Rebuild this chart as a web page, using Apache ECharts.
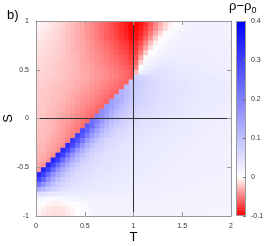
<!DOCTYPE html>
<html><head><meta charset="utf-8">
<script src="https://cdn.jsdelivr.net/npm/echarts@6/dist/echarts.min.js"></script>
<style>html,body{margin:0;padding:0;background:#fff}#c{width:273px;height:246px}</style>
</head><body><div id="c"></div>
<script>
// cell centres (T across, S down from the top row)
const tCenters = [0.025,0.075,0.125,0.175,0.225,0.275,0.325,0.375,0.425,0.475,0.525,0.575,0.625,0.675,0.725,0.775,0.825,0.875,0.925,0.975,1.025,1.075,1.125,1.175,1.225,1.275,1.325,1.375,1.425,1.475,1.525,1.575,1.625,1.675,1.725,1.775,1.825,1.875,1.925,1.975];
const sCenters = [0.975,0.925,0.875,0.825,0.775,0.725,0.675,0.625,0.575,0.525,0.475,0.425,0.375,0.325,0.275,0.225,0.175,0.125,0.075,0.025,-0.025,-0.075,-0.125,-0.175,-0.225,-0.275,-0.325,-0.375,-0.425,-0.475,-0.525,-0.575,-0.625,-0.675,-0.725,-0.775,-0.825,-0.875,-0.925,-0.975];
// rho - rho0, one row per S value (top row first)
const rhoDiff = [
[-0.004,-0.006,-0.008,-0.011,-0.014,-0.018,-0.022,-0.026,-0.031,-0.035,-0.041,-0.046,-0.051,-0.057,-0.063,-0.069,-0.076,-0.083,-0.089,-0.1,-0.098,-0.092,-0.08,-0.065,-0.048,-0.032,-0.018,-0.007,0,0.008,0.014,0.018,0.02,0.022,0.022,0.022,0.022,0.022,0.021,0.021],
[-0.005,-0.007,-0.009,-0.012,-0.015,-0.019,-0.022,-0.027,-0.031,-0.036,-0.041,-0.046,-0.051,-0.057,-0.063,-0.069,-0.075,-0.082,-0.089,-0.099,-0.097,-0.09,-0.077,-0.061,-0.045,-0.028,-0.015,-0.003,0.006,0.012,0.016,0.019,0.021,0.022,0.023,0.023,0.023,0.022,0.022,0.022],
[-0.007,-0.009,-0.011,-0.014,-0.017,-0.02,-0.024,-0.028,-0.032,-0.036,-0.041,-0.046,-0.051,-0.057,-0.063,-0.068,-0.074,-0.081,-0.087,-0.097,-0.094,-0.085,-0.07,-0.052,-0.034,-0.017,-0.003,0.006,0.012,0.017,0.02,0.022,0.023,0.024,0.024,0.024,0.023,0.023,0.023,0.022],
[-0.008,-0.01,-0.012,-0.014,-0.017,-0.021,-0.024,-0.028,-0.032,-0.036,-0.041,-0.046,-0.051,-0.056,-0.062,-0.067,-0.073,-0.079,-0.085,-0.095,-0.091,-0.08,-0.061,-0.041,-0.02,-0.004,0.006,0.013,0.018,0.021,0.023,0.024,0.024,0.025,0.025,0.024,0.024,0.024,0.023,0.023],
[-0.01,-0.012,-0.014,-0.016,-0.019,-0.021,-0.024,-0.028,-0.032,-0.035,-0.039,-0.044,-0.048,-0.053,-0.058,-0.063,-0.068,-0.074,-0.079,-0.088,-0.083,-0.07,-0.048,-0.027,-0.007,0.005,0.013,0.018,0.021,0.023,0.024,0.025,0.025,0.025,0.025,0.025,0.024,0.024,0.024,0.023],
[-0.011,-0.013,-0.014,-0.017,-0.018,-0.021,-0.024,-0.028,-0.032,-0.035,-0.039,-0.043,-0.047,-0.051,-0.056,-0.061,-0.065,-0.071,-0.076,-0.084,-0.079,-0.061,-0.036,-0.012,0.003,0.012,0.018,0.021,0.023,0.024,0.025,0.025,0.026,0.026,0.026,0.025,0.025,0.025,0.024,0.024],
[-0.012,-0.014,-0.015,-0.017,-0.019,-0.022,-0.025,-0.028,-0.03,-0.034,-0.038,-0.041,-0.046,-0.05,-0.054,-0.058,-0.063,-0.068,-0.073,-0.08,-0.073,-0.051,-0.02,0,0.01,0.017,0.021,0.024,0.025,0.026,0.026,0.026,0.026,0.026,0.026,0.026,0.025,0.025,0.025,0.024],
[-0.013,-0.014,-0.016,-0.018,-0.019,-0.022,-0.025,-0.027,-0.03,-0.034,-0.037,-0.041,-0.044,-0.048,-0.052,-0.056,-0.06,-0.064,-0.069,-0.076,-0.068,-0.034,-0.002,0.012,0.019,0.024,0.027,0.028,0.028,0.028,0.027,0.027,0.026,0.026,0.026,0.026,0.025,0.025,0.025,0.024],
[-0.014,-0.015,-0.017,-0.018,-0.02,-0.023,-0.025,-0.027,-0.03,-0.033,-0.036,-0.04,-0.043,-0.047,-0.05,-0.054,-0.057,-0.062,-0.066,-0.072,-0.06,-0.018,0.012,0.022,0.028,0.031,0.032,0.032,0.031,0.03,0.029,0.028,0.027,0.027,0.026,0.026,0.026,0.025,0.025,0.025],
[-0.015,-0.016,-0.018,-0.019,-0.021,-0.023,-0.025,-0.027,-0.029,-0.033,-0.035,-0.038,-0.041,-0.044,-0.048,-0.051,-0.054,-0.059,-0.062,-0.068,-0.05,0.005,0.02,0.03,0.035,0.037,0.037,0.036,0.035,0.033,0.032,0.031,0.03,0.029,0.028,0.027,0.027,0.026,0.026,0.025],
[-0.016,-0.017,-0.018,-0.019,-0.022,-0.023,-0.025,-0.027,-0.03,-0.032,-0.034,-0.038,-0.04,-0.043,-0.046,-0.05,-0.053,-0.056,-0.059,-0.065,-0.028,0.025,0.035,0.042,0.045,0.044,0.042,0.04,0.038,0.036,0.034,0.032,0.031,0.03,0.029,0.028,0.027,0.027,0.026,0.025],
[-0.017,-0.018,-0.019,-0.02,-0.022,-0.023,-0.025,-0.028,-0.029,-0.032,-0.034,-0.037,-0.04,-0.043,-0.045,-0.048,-0.051,-0.055,-0.059,-0.063,0.07,0.066,0.06,0.054,0.05,0.047,0.044,0.042,0.04,0.038,0.037,0.035,0.034,0.033,0.032,0.031,0.03,0.029,0.028,0.027],
[-0.018,-0.019,-0.02,-0.022,-0.023,-0.025,-0.027,-0.029,-0.032,-0.034,-0.036,-0.039,-0.042,-0.045,-0.048,-0.051,-0.054,-0.058,-0.061,0.09,0.084,0.075,0.067,0.06,0.055,0.052,0.048,0.046,0.044,0.041,0.04,0.038,0.036,0.035,0.034,0.032,0.031,0.03,0.029,0.028],
[-0.019,-0.02,-0.021,-0.023,-0.024,-0.027,-0.028,-0.03,-0.033,-0.036,-0.039,-0.041,-0.044,-0.047,-0.051,-0.054,-0.057,-0.061,0.105,0.096,0.085,0.075,0.067,0.06,0.056,0.052,0.049,0.046,0.044,0.042,0.04,0.038,0.037,0.035,0.034,0.032,0.031,0.03,0.029,0.028],
[-0.019,-0.021,-0.021,-0.023,-0.025,-0.027,-0.03,-0.032,-0.034,-0.037,-0.04,-0.043,-0.046,-0.05,-0.053,-0.057,-0.061,0.119,0.11,0.096,0.083,0.073,0.066,0.06,0.056,0.052,0.049,0.047,0.044,0.042,0.04,0.039,0.037,0.035,0.034,0.032,0.031,0.03,0.029,0.028],
[-0.02,-0.022,-0.022,-0.025,-0.026,-0.028,-0.031,-0.034,-0.037,-0.04,-0.043,-0.046,-0.049,-0.053,-0.057,-0.061,0.133,0.123,0.106,0.09,0.079,0.071,0.064,0.059,0.055,0.052,0.049,0.046,0.044,0.042,0.04,0.038,0.036,0.035,0.033,0.032,0.031,0.03,0.029,0.028],
[-0.02,-0.022,-0.023,-0.025,-0.027,-0.03,-0.032,-0.035,-0.038,-0.042,-0.045,-0.049,-0.052,-0.056,-0.061,0.148,0.135,0.116,0.098,0.086,0.076,0.068,0.063,0.058,0.054,0.052,0.048,0.046,0.044,0.042,0.039,0.038,0.036,0.034,0.033,0.031,0.03,0.029,0.028,0.027],
[-0.021,-0.022,-0.024,-0.026,-0.028,-0.031,-0.034,-0.037,-0.04,-0.044,-0.048,-0.051,-0.056,-0.06,0.162,0.148,0.125,0.104,0.089,0.078,0.07,0.063,0.059,0.055,0.052,0.048,0.046,0.044,0.042,0.039,0.038,0.036,0.034,0.033,0.031,0.03,0.029,0.028,0.027,0.027],
[-0.021,-0.022,-0.025,-0.027,-0.029,-0.032,-0.036,-0.039,-0.043,-0.047,-0.051,-0.055,-0.06,0.177,0.16,0.134,0.11,0.093,0.08,0.071,0.064,0.059,0.055,0.052,0.048,0.046,0.044,0.042,0.039,0.038,0.036,0.034,0.033,0.031,0.03,0.029,0.028,0.027,0.027,0.026],
[-0.022,-0.023,-0.026,-0.028,-0.031,-0.035,-0.037,-0.042,-0.046,-0.05,-0.054,-0.059,0.196,0.177,0.146,0.118,0.098,0.083,0.073,0.065,0.06,0.055,0.052,0.048,0.046,0.044,0.042,0.039,0.038,0.036,0.034,0.033,0.031,0.03,0.029,0.028,0.027,0.027,0.026,0.025],
[-0.023,-0.024,-0.027,-0.029,-0.033,-0.036,-0.039,-0.044,-0.048,-0.053,-0.058,0.226,0.202,0.164,0.13,0.106,0.088,0.076,0.067,0.061,0.056,0.052,0.048,0.046,0.044,0.042,0.039,0.038,0.036,0.034,0.033,0.031,0.03,0.029,0.028,0.027,0.027,0.026,0.025,0.025],
[-0.024,-0.025,-0.027,-0.03,-0.033,-0.038,-0.042,-0.046,-0.051,-0.056,0.255,0.226,0.182,0.141,0.113,0.092,0.078,0.068,0.061,0.057,0.053,0.048,0.046,0.044,0.042,0.039,0.038,0.036,0.034,0.033,0.031,0.03,0.029,0.028,0.027,0.027,0.026,0.025,0.025,0.024],
[-0.024,-0.025,-0.027,-0.031,-0.034,-0.039,-0.043,-0.048,-0.053,0.279,0.247,0.196,0.149,0.117,0.093,0.078,0.067,0.06,0.055,0.05,0.046,0.044,0.042,0.04,0.038,0.036,0.035,0.033,0.032,0.031,0.03,0.029,0.028,0.027,0.026,0.026,0.025,0.024,0.024,0.024],
[-0.025,-0.026,-0.029,-0.032,-0.036,-0.04,-0.045,-0.05,0.298,0.264,0.208,0.157,0.122,0.096,0.08,0.068,0.06,0.055,0.051,0.046,0.044,0.042,0.04,0.038,0.036,0.035,0.033,0.032,0.031,0.03,0.029,0.028,0.027,0.026,0.026,0.025,0.024,0.024,0.024,0.023],
[-0.026,-0.027,-0.03,-0.034,-0.038,-0.042,-0.048,0.313,0.276,0.216,0.161,0.123,0.096,0.078,0.066,0.058,0.053,0.049,0.044,0.042,0.04,0.039,0.037,0.035,0.034,0.032,0.031,0.03,0.029,0.028,0.027,0.027,0.026,0.025,0.025,0.024,0.024,0.024,0.023,0.023],
[-0.027,-0.029,-0.032,-0.036,-0.04,-0.046,0.332,0.292,0.228,0.168,0.128,0.099,0.08,0.067,0.059,0.053,0.049,0.044,0.042,0.04,0.039,0.037,0.035,0.034,0.032,0.031,0.03,0.029,0.028,0.027,0.027,0.026,0.025,0.025,0.024,0.024,0.024,0.023,0.023,0.023],
[-0.028,-0.03,-0.034,-0.038,-0.044,0.332,0.292,0.228,0.168,0.128,0.099,0.08,0.067,0.059,0.053,0.049,0.044,0.042,0.04,0.039,0.037,0.035,0.034,0.032,0.031,0.03,0.029,0.028,0.027,0.027,0.026,0.025,0.025,0.024,0.024,0.024,0.023,0.023,0.023,0.022],
[-0.03,-0.033,-0.037,-0.043,0.336,0.295,0.23,0.17,0.13,0.1,0.08,0.067,0.059,0.053,0.049,0.044,0.042,0.04,0.039,0.037,0.035,0.034,0.032,0.031,0.03,0.029,0.028,0.027,0.027,0.026,0.025,0.025,0.024,0.024,0.024,0.023,0.023,0.023,0.022,0.022],
[-0.032,-0.035,-0.042,0.342,0.3,0.233,0.172,0.131,0.101,0.081,0.067,0.059,0.053,0.049,0.044,0.042,0.04,0.039,0.037,0.035,0.034,0.032,0.031,0.03,0.029,0.028,0.027,0.027,0.026,0.025,0.025,0.024,0.024,0.024,0.023,0.023,0.023,0.022,0.022,0.022],
[-0.036,-0.041,0.342,0.3,0.233,0.172,0.131,0.101,0.081,0.067,0.059,0.053,0.049,0.044,0.042,0.04,0.039,0.037,0.035,0.034,0.032,0.031,0.03,0.029,0.028,0.027,0.027,0.026,0.025,0.025,0.024,0.024,0.024,0.023,0.023,0.023,0.022,0.022,0.022,0.022],
[-0.04,0.342,0.3,0.233,0.172,0.131,0.101,0.081,0.067,0.059,0.053,0.049,0.044,0.042,0.04,0.039,0.037,0.035,0.034,0.032,0.031,0.03,0.029,0.028,0.027,0.027,0.026,0.025,0.025,0.024,0.024,0.024,0.023,0.023,0.023,0.022,0.022,0.022,0.022,0.022],
[0.34,0.3,0.23,0.17,0.13,0.1,0.08,0.066,0.058,0.052,0.048,0.044,0.042,0.04,0.038,0.036,0.035,0.034,0.032,0.031,0.03,0.029,0.028,0.027,0.027,0.026,0.025,0.025,0.024,0.024,0.024,0.023,0.023,0.023,0.022,0.022,0.022,0.022,0.022,0.022],
[0.3,0.24,0.18,0.135,0.1,0.08,0.066,0.057,0.051,0.047,0.043,0.041,0.039,0.037,0.036,0.034,0.033,0.032,0.031,0.03,0.029,0.028,0.027,0.026,0.026,0.025,0.025,0.024,0.024,0.023,0.023,0.023,0.022,0.022,0.022,0.022,0.021,0.021,0.021,0.021],
[0.22,0.17,0.13,0.1,0.078,0.064,0.055,0.049,0.045,0.042,0.039,0.037,0.035,0.034,0.033,0.032,0.031,0.03,0.029,0.028,0.027,0.026,0.026,0.025,0.025,0.024,0.024,0.023,0.023,0.023,0.022,0.022,0.022,0.021,0.021,0.021,0.021,0.021,0.02,0.02],
[0.13,0.11,0.09,0.072,0.06,0.051,0.045,0.041,0.038,0.036,0.034,0.033,0.032,0.031,0.03,0.029,0.028,0.027,0.027,0.026,0.025,0.025,0.024,0.024,0.023,0.023,0.023,0.022,0.022,0.022,0.021,0.021,0.021,0.021,0.02,0.02,0.02,0.02,0.02,0.02],
[0.05,0.045,0.04,0.036,0.033,0.031,0.03,0.03,0.029,0.029,0.028,0.028,0.028,0.027,0.027,0.026,0.026,0.025,0.025,0.024,0.024,0.023,0.023,0.023,0.022,0.022,0.022,0.021,0.021,0.021,0.021,0.02,0.02,0.02,0.02,0.019,0.019,0.019,0.019,0.019],
[0.015,0.012,0.01,0.01,0.011,0.013,0.015,0.017,0.019,0.02,0.021,0.022,0.022,0.022,0.022,0.022,0.022,0.022,0.022,0.022,0.021,0.021,0.021,0.021,0.02,0.02,0.02,0.02,0.02,0.019,0.019,0.019,0.019,0.019,0.018,0.018,0.018,0.018,0.018,0.018],
[0.004,0,-0.004,-0.006,-0.006,-0.004,-0.001,0.003,0.007,0.011,0.014,0.017,0.019,0.02,0.021,0.021,0.021,0.021,0.021,0.021,0.02,0.02,0.02,0.02,0.019,0.019,0.019,0.019,0.019,0.018,0.018,0.018,0.018,0.018,0.018,0.017,0.017,0.017,0.017,0.017],
[-0.002,-0.006,-0.009,-0.011,-0.011,-0.01,-0.007,-0.003,0.002,0.007,0.011,0.015,0.018,0.019,0.02,0.02,0.02,0.02,0.02,0.02,0.02,0.019,0.019,0.019,0.019,0.018,0.018,0.018,0.018,0.018,0.017,0.017,0.017,0.017,0.017,0.017,0.016,0.016,0.016,0.016],
[-0.005,-0.009,-0.012,-0.013,-0.013,-0.012,-0.009,-0.005,0,0.005,0.01,0.014,0.017,0.019,0.02,0.02,0.02,0.02,0.02,0.02,0.019,0.019,0.019,0.019,0.018,0.018,0.018,0.018,0.018,0.017,0.017,0.017,0.017,0.017,0.017,0.016,0.016,0.016,0.016,0.016]
];
const cellWidth = 0.05, cellHeight = 0.05;
const regionNames = ['HG', 'SD', 'SH', 'PD'];
const regionT = [0.315, 1.49, 0.305, 1.49];
const regionS = [0.5, 0.5, -0.31, -0.32];
const colorMin = -0.1, colorMax = 0.4;
const colorStops = ['#ff0000', '#ffffff', '#bfbfff', '#8080ff', '#4040ff', '#0000ff'];

const cells = [];
for (let j = 0; j < sCenters.length; j++)
  for (let i = 0; i < tCenters.length; i++)
    cells.push([tCenters[i], sCenters[j], rhoDiff[j][i]]);
const regions = regionNames.map((n, k) => ({ name: n, value: [regionT[k], regionS[k]] }));

const FONT = 'Liberation Sans, Arial, Helvetica, sans-serif';
const frame = { color: '#999', width: 1 };
const line0 = { show: true, onZero: false, lineStyle: frame };
const chart = echarts.init(document.getElementById('c'));
chart.setOption({
  animation: false,
  textStyle: { fontFamily: FONT },
  grid: [
    { left: 36, top: 21, width: 195, height: 195, containLabel: false, outerBoundsMode: 'none' },
    { left: 236, top: 21, width: 10, height: 195, containLabel: false, outerBoundsMode: 'none' }
  ],
  xAxis: [
    { gridIndex: 0, type: 'value', min: 0, max: 2, interval: 0.5, position: 'bottom', z: 10,
      axisLine: line0, axisTick: { inside: true, length: 4, lineStyle: frame },
      axisLabel: { fontSize: 7, color: '#333', margin: 7 }, splitLine: { show: false },
      name: 'T', nameLocation: 'middle', nameGap: 15, nameMoveOverlap: false,
      nameTextStyle: { fontSize: 13, color: '#000', fontFamily: FONT } },
    { gridIndex: 0, type: 'value', min: 0, max: 2, interval: 0.5, position: 'top', z: 10,
      axisLine: line0, axisTick: { inside: true, length: 4, lineStyle: frame },
      axisLabel: { show: false }, splitLine: { show: false } },
    { gridIndex: 1, type: 'value', min: 0, max: 1, show: false }
  ],
  yAxis: [
    { gridIndex: 0, type: 'value', min: -1, max: 1, interval: 0.5, position: 'left', z: 10,
      axisLine: line0, axisTick: { inside: true, length: 4, lineStyle: frame },
      axisLabel: { fontSize: 7, color: '#333', margin: 7 }, splitLine: { show: false },
      name: 'S', nameLocation: 'middle', nameGap: 21, nameRotate: 90, nameMoveOverlap: false,
      nameTextStyle: { fontSize: 13, color: '#000', fontFamily: FONT } },
    { gridIndex: 0, type: 'value', min: -1, max: 1, interval: 0.5, position: 'right', z: 10,
      axisLine: line0, axisTick: { inside: true, length: 4, lineStyle: frame },
      axisLabel: { show: false }, splitLine: { show: false } },
    { gridIndex: 1, type: 'value', min: colorMin, max: colorMax, interval: 0.1, position: 'right', z: 10,
      axisLine: { show: false, onZero: false }, axisTick: { inside: true, length: 3, lineStyle: { color: '#777' } },
      axisLabel: { fontSize: 7, color: '#333', margin: 5 }, splitLine: { show: false } }
  ],
  visualMap: { type: 'continuous', show: false, min: colorMin, max: colorMax, dimension: 2, seriesIndex: 0,
    inRange: { color: colorStops } },
  series: [
    { type: 'custom', xAxisIndex: 0, yAxisIndex: 0, data: cells, encode: { x: 0, y: 1 }, clip: true, z: 2,
      renderItem: function (params, api) {
        const p0 = api.coord([api.value(0) - cellWidth / 2, api.value(1) + cellHeight / 2]);
        const sz = api.size([cellWidth, cellHeight]);
        return { type: 'rect', shape: { x: p0[0], y: p0[1], width: sz[0] + 0.7, height: sz[1] + 0.7 },
          style: { fill: api.visual('color') } };
      } },
    { type: 'custom', xAxisIndex: 2, yAxisIndex: 2, data: [[0.5, 0.15]], z: 2,
      renderItem: function (params) {
        const cs = params.coordSys;
        return { type: 'rect', shape: { x: cs.x + 0.5, y: cs.y + 0.5, width: cs.width - 1, height: cs.height - 1 },
          style: { stroke: '#999', lineWidth: 1,
            fill: new echarts.graphic.LinearGradient(0, 1, 0, 0, [
              { offset: 0, color: colorStops[0] }, { offset: 0.2, color: colorStops[1] }, { offset: 1, color: colorStops[5] }]) } };
      } },
    { type: 'scatter', xAxisIndex: 0, yAxisIndex: 0, data: regions, symbolSize: 1, z: 5,
      itemStyle: { opacity: 0 },
      label: { show: true, position: 'inside', formatter: '{b}', fontSize: 13, color: '#111', fontFamily: FONT },
      markLine: { silent: true, symbol: ['none', 'none'], label: { show: false },
        lineStyle: { color: '#333', width: 1, type: 'solid' },
        data: [{ xAxis: 1 }, { yAxis: 0 }] } }
  ],
  graphic: [
    { type: 'text', left: 7, top: 9, style: { text: 'b)', font: '13px ' + FONT, fill: '#000' } },
    { type: 'text', x: 229, y: 6.5, style: { text: 'ρ−ρ', font: '13px ' + FONT, fill: '#000', verticalAlign: 'middle' } },
    { type: 'text', x: 251.5, y: 11, style: { text: '0', font: '9px ' + FONT, fill: '#000', verticalAlign: 'middle' } }
  ]
});
</script></body></html>
